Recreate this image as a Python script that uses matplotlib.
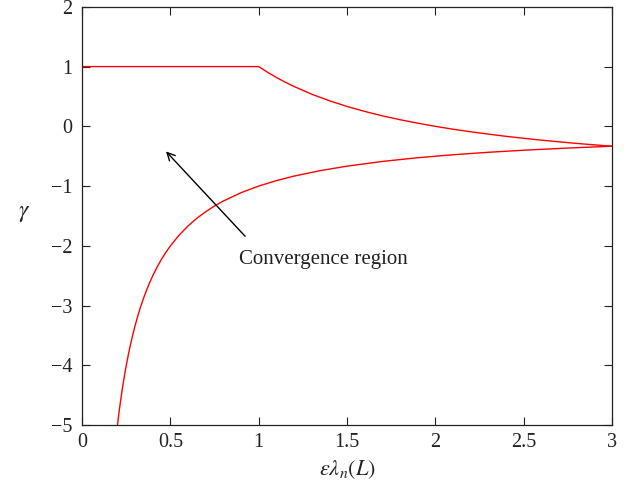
import numpy as np
import matplotlib
matplotlib.use("Agg")
import matplotlib.pyplot as plt

plt.rcParams['font.family'] = ['Liberation Serif', 'DejaVu Serif']
plt.rcParams['mathtext.fontset'] = 'stix'

# upper branch of gamma
x_upper = [0.0, 1.0, 1.05, 1.1, 1.15, 1.2, 1.3, 1.4, 1.5, 1.6, 1.7, 1.8, 1.9, 2.0,
           2.1, 2.2, 2.3, 2.4, 2.5, 2.6, 2.7, 2.8, 2.9, 3.0]
y_upper = [1.0, 1.0, 0.905, 0.818, 0.739, 0.667, 0.538, 0.429, 0.333, 0.25, 0.176,
           0.111, 0.053, 0.0, -0.048, -0.091, -0.130, -0.167, -0.2, -0.231, -0.259,
           -0.286, -0.310, -0.333]

# lower branch of gamma
x_lower = [0.2, 0.205, 0.21, 0.215, 0.22, 0.225, 0.23, 0.235, 0.24, 0.25, 0.26, 0.27,
           0.285, 0.3, 0.315, 0.33, 0.345, 0.36, 0.38, 0.4, 0.425, 0.45, 0.475, 0.5,
           0.55, 0.6, 0.65, 0.7, 0.75, 0.8, 0.9, 1.0, 1.1, 1.2, 1.35, 1.5, 1.7, 1.9,
           2.1, 2.3, 2.5, 2.75, 3.0]
y_lower = [-5.0, -4.878, -4.762, -4.651, -4.545, -4.444, -4.348, -4.255, -4.167,
           -4.0, -3.846, -3.704, -3.509, -3.333, -3.175, -3.030, -2.899, -2.778,
           -2.632, -2.5, -2.353, -2.222, -2.105, -2.0, -1.818, -1.667, -1.538,
           -1.429, -1.333, -1.25, -1.111, -1.0, -0.909, -0.833, -0.741, -0.667,
           -0.588, -0.526, -0.476, -0.435, -0.4, -0.364, -0.333]

xticks = [0, 0.5, 1, 1.5, 2, 2.5, 3]
xticklabels = ['0', '0.5', '1', '1.5', '2', '2.5', '3']
yticks = [-5, -4, -3, -2, -1, 0, 1, 2]
yticklabels = ['\u22125', '\u22124', '\u22123', '\u22122', '\u22121', '0', '1', '2']

fig = plt.figure(figsize=(6.32, 4.88), dpi=100)
ax = fig.add_axes([0.130, 0.129, 0.838, 0.857])

ax.plot(x_upper, y_upper, color='#ff0000', lw=1.0)
ax.plot(x_lower, y_lower, color='#ff0000', lw=1.0)

ax.annotate('', xy=(0.475, -0.42), xytext=(0.923, -1.84),
            arrowprops=dict(arrowstyle='->', color='black', lw=1.0,
                            mutation_scale=14, shrinkA=0, shrinkB=0))
ax.text(0.89, -2.23, 'Convergence region', fontsize=15, va='center', ha='left',
        color='#222222')

ax.set_xlim(0, 3)
ax.set_ylim(-5, 2)
ax.set_xticks(xticks)
ax.set_xticklabels(xticklabels)
ax.set_yticks(yticks)
ax.set_yticklabels(yticklabels)
ax.tick_params(direction='in', top=True, right=True, length=6, width=0.8,
               labelsize=14.5, colors='#222222')
ax.tick_params(axis='x', pad=6)
ax.tick_params(axis='y', pad=7)
for s in ax.spines.values():
    s.set_linewidth(0.9)
    s.set_color('#222222')

ax.set_xlabel(r'$\varepsilon\lambda_n(L)$', fontsize=16, labelpad=4, color='#222222')
ax.set_ylabel(r'$\gamma$', fontsize=17, rotation=0, color='#222222')
ax.yaxis.set_label_coords(-0.11, 0.48)

fig.savefig('out.png', dpi=100)
